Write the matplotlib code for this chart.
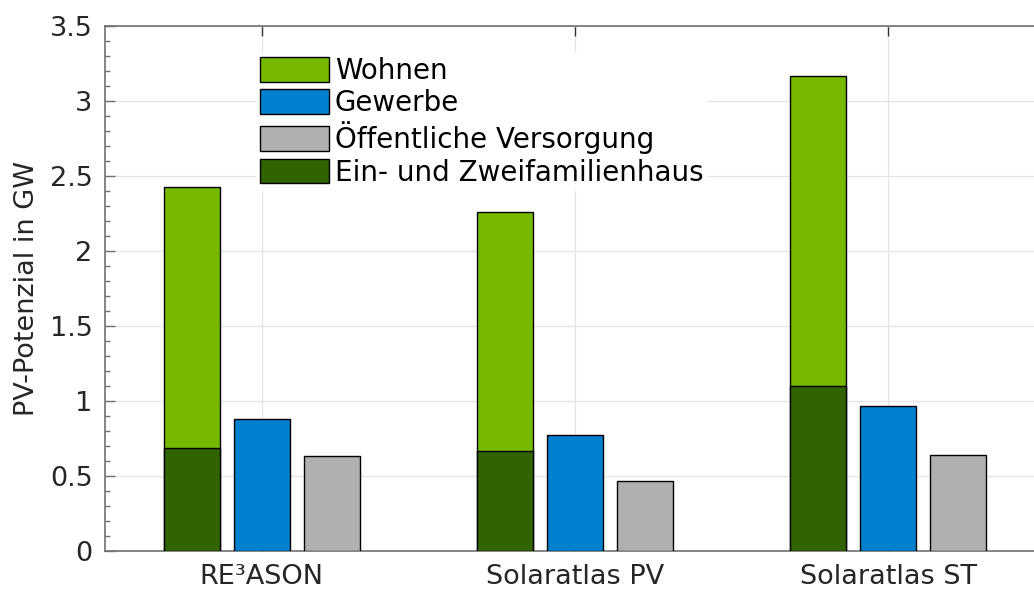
import numpy as np
import matplotlib
matplotlib.use('Agg')
import matplotlib.pyplot as plt
from matplotlib.ticker import MultipleLocator, FormatStrFormatter

plt.rcParams['font.family'] = ['DejaVu Sans']

# Data (GW)
categories = ['RE\u00b3ASON', 'Solaratlas PV', 'Solaratlas ST']
wohnen = [2.43, 2.26, 3.165]        # total residential (drawn behind)
ezfh = [0.685, 0.665, 1.10]         # Ein- und Zweifamilienhaus (part of Wohnen)
gewerbe = [0.88, 0.775, 0.97]
oeffentlich = [0.633, 0.467, 0.638]

c_wohnen = '#77b900'
c_gewerbe = '#0080cf'
c_oeff = '#b0b0b0'
c_ezfh = '#316400'
txt = '#262626'
spine = '#707070'

fig = plt.figure(figsize=(10.34, 5.9), dpi=100)
ax = fig.add_axes([105/1034, 39/590, 940/1034, 525/590])

x = np.arange(1, len(categories) + 1)
off = 0.2234
w = 0.1787
kw = dict(edgecolor='black', linewidth=1.0, zorder=3)

b1 = ax.bar(x - off, wohnen, w, color=c_wohnen, label='Wohnen', **kw)
b2 = ax.bar(x, gewerbe, w, color=c_gewerbe, label='Gewerbe', **kw)
b3 = ax.bar(x + off, oeffentlich, w, color=c_oeff, label='\u00d6ffentliche Versorgung', **kw)
b4 = ax.bar(x - off, ezfh, w, color=c_ezfh, label='Ein- und Zweifamilienhaus', **kw)

ax.set_xlim(0.5, 3.5)
ax.set_ylim(0, 3.5)
ax.set_xticks(x)
ax.set_xticklabels(categories)
ax.yaxis.set_major_locator(MultipleLocator(0.5))
ax.yaxis.set_minor_locator(MultipleLocator(0.1))
ax.yaxis.set_major_formatter(FormatStrFormatter('%g'))

ax.grid(True, which='major', color='#e4e4e4', linewidth=0.9, zorder=0)
ax.set_axisbelow(True)

fs = 19.5
ax.tick_params(axis='x', which='major', direction='in', length=7.2, width=1.0,
               color='#333333', top=True, bottom=True, labelsize=fs, labelcolor=txt, pad=9)
ax.tick_params(axis='y', which='major', direction='in', length=7.2, width=1.0,
               color=spine, left=True, right=False, labelsize=fs, labelcolor=txt, pad=9)
ax.tick_params(axis='y', which='minor', direction='in', length=3.6, width=1.0,
               color=spine, left=True, right=False)

for s in ax.spines.values():
    s.set_color(spine)
    s.set_linewidth(1.2)

ax.set_ylabel('PV-Potenzial in GW', fontsize=fs, color=txt, labelpad=7)

leg = ax.legend(handles=[b1, b2, b3, b4], loc='upper left',
                bbox_to_anchor=(256/1034, 1 - 53/590), bbox_transform=fig.transFigure,
                fontsize=20, frameon=True, fancybox=False, framealpha=1,
                facecolor='white', edgecolor='none', borderpad=0.15, borderaxespad=0,
                handlelength=2.48, handleheight=1.0, handletextpad=0.2, labelspacing=0.15)
for t in leg.get_texts():
    t.set_color('black')

fig.savefig('out.png', dpi=100)
